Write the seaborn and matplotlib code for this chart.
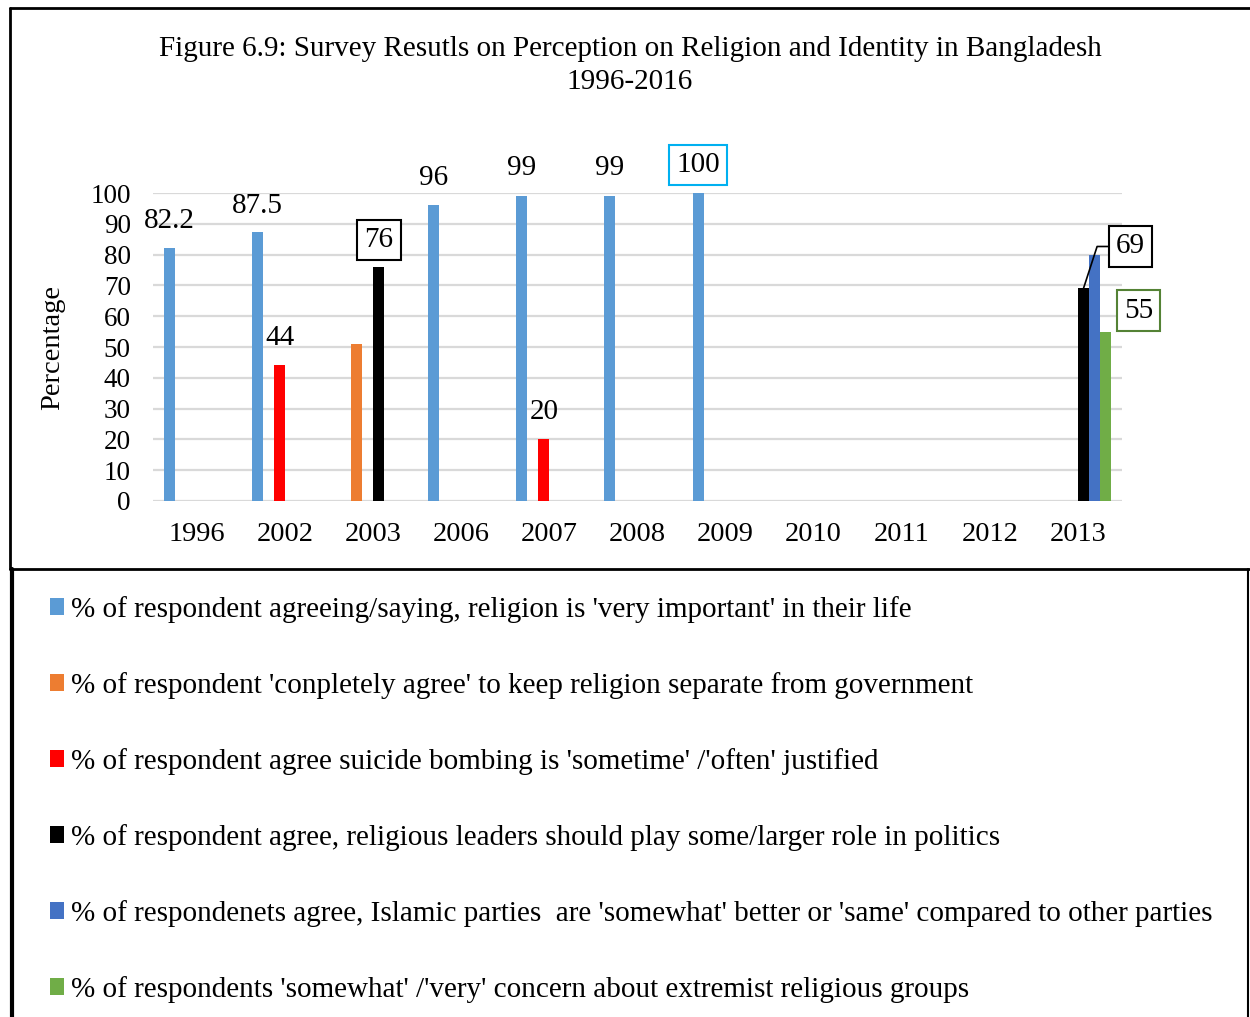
import pandas as pd
import matplotlib
matplotlib.use('Agg')
import matplotlib.pyplot as plt
from matplotlib.lines import Line2D
import seaborn as sns

# Data
years = ['1996', '2002', '2003', '2006', '2007', '2008', '2009', '2010', '2011', '2012', '2013']
series_names = [
    "% of respondent agreeing/saying, religion is 'very important' in their life",
    "% of respondent 'conpletely agree' to keep religion separate from government",
    "% of respondent agree suicide bombing is 'sometime' /'often' justified",
    "% of respondent agree, religious leaders should play some/larger role in politics",
    "% of respondenets agree, Islamic parties  are 'somewhat' better or 'same' compared to other parties",
    "% of respondents 'somewhat' /'very' concern about extremist religious groups",
]
very_important = [82.2, 87.5, None, 96, 99, 99, 100, None, None, None, None]
separate_gov = [None, None, 51, None, None, None, None, None, None, None, None]
suicide_bombing = [None, 44, None, None, 20, None, None, None, None, None, None]
leaders_politics = [None, None, 76, None, None, None, None, None, None, None, 69]
islamic_parties = [None, None, None, None, None, None, None, None, None, None, 80]
extremist_concern = [None, None, None, None, None, None, None, None, None, None, 55]

colors = ['#5B9BD5', '#ED7D31', '#FF0000', '#000000', '#4472C4', '#70AD47']

# long-form table
wide = pd.DataFrame({'year': years})
for name, vals in zip(series_names, [very_important, separate_gov, suicide_bombing,
                                     leaders_politics, islamic_parties, extremist_concern]):
    wide[name] = vals
df = wide.melt(id_vars='year', var_name='series', value_name='value').dropna()

# which labels are shown and how: (series index, value) -> (dx px, dy px, edge colour or None)
label_style = {
    (0, 82.2): (0, 27, None),
    (0, 87.5): (0, 26, None),
    (0, 96.0): (0, 27, None),
    (0, 99.0): (0, 28, None),
    (0, 100.0): (0, 28, '#00B0F0'),
    (2, 44.0): (0, 27, None),
    (2, 20.0): (0, 27, None),
    (3, 76.0): (0, 27, 'black'),
    (3, 69.0): (47, 42, 'black'),
    (5, 55.0): (33, 21, '#548235'),
}

sns.set_style('white')
plt.rcParams['font.family'] = ['Liberation Serif', 'DejaVu Serif']
for k in ['text.color', 'axes.labelcolor', 'xtick.color', 'ytick.color']:
    plt.rcParams[k] = 'black'

fig = plt.figure(figsize=(12.5, 10.17), dpi=100)
ax = fig.add_axes([0.1224, 0.5074, 0.7752, 0.3028])

sns.barplot(data=df, x='year', y='value', hue='series', order=years,
            hue_order=series_names, palette=colors, saturation=1,
            errorbar=None, width=0.75, linewidth=0, ax=ax)

ax.set_ylim(0, 100)
ax.set_xlim(-0.5, len(years) - 0.5)
ax.set_yticks(range(0, 101, 10))
ax.yaxis.grid(True, color='#D9D9D9', lw=1.6)
ax.set_axisbelow(True)
for s in ax.spines.values():
    s.set_visible(False)
ax.tick_params(axis='y', length=0, labelsize=19.5, pad=16)
ax.tick_params(axis='x', length=0, labelsize=20.5, pad=15)
ax.set_xlabel('')
ax.set_ylabel('Percentage', fontsize=20.5)
ax.yaxis.set_label_coords(-0.091, 0.5)

# data labels
for i, cont in enumerate(ax.containers):
    for bar in cont:
        h = bar.get_height()
        key = (i, round(float(h), 1))
        if key not in label_style:
            continue
        dx, dy, ec = label_style[key]
        xc = bar.get_x() + bar.get_width() / 2
        txt = f'{h:g}'
        kw = {}
        if ec is not None:
            kw['bbox'] = dict(boxstyle='square,pad=0.25', fc='white', ec=ec, lw=1.5)
        if dx > 40:
            kw['arrowprops'] = dict(arrowstyle='-', color='black', lw=1.2,
                                    connectionstyle='angle,angleA=180,angleB=72,rad=0',
                                    shrinkA=0, shrinkB=0)
        ax.annotate(txt, xy=(xc, h), xytext=(dx, dy), textcoords='offset pixels',
                    ha='center', va='center', fontsize=21, annotation_clip=False, **kw)

# legend in its own box under the chart
leg = ax.get_legend()
handles = leg.legend_handles
labels = [t.get_text() for t in leg.get_texts()]
leg.remove()
fig.legend(handles, labels, loc='upper left', bbox_to_anchor=(0.04, 0.414),
           frameon=False, fontsize=21, ncol=1, borderpad=0, borderaxespad=0,
           handlelength=0.48, handleheight=0.48, handletextpad=0.25, labelspacing=1.68)

# title
fig.text(0.504, 0.9515, 'Figure 6.9: Survey Resutls on Perception on Religion and Identity in Bangladesh',
         ha='center', va='center', fontsize=21)
fig.text(0.504, 0.919, '1996-2016', ha='center', va='center', fontsize=21)

# outer frames
W, H = 1250, 1017
def fline(x0, y0, x1, y1, lw):
    fig.add_artist(Line2D([x0 / W, x1 / W], [1 - y0 / H, 1 - y1 / H],
                          transform=fig.transFigure, color='black', lw=lw))
fline(10, 8, 1250, 8, 2)
fline(10, 8, 10, 569, 2)
fline(10, 569, 1250, 569, 2)
fline(12, 569, 12, 1017, 3)
fline(1248, 569, 1248, 1017, 1.5)

fig.savefig('out.png', dpi=100)
